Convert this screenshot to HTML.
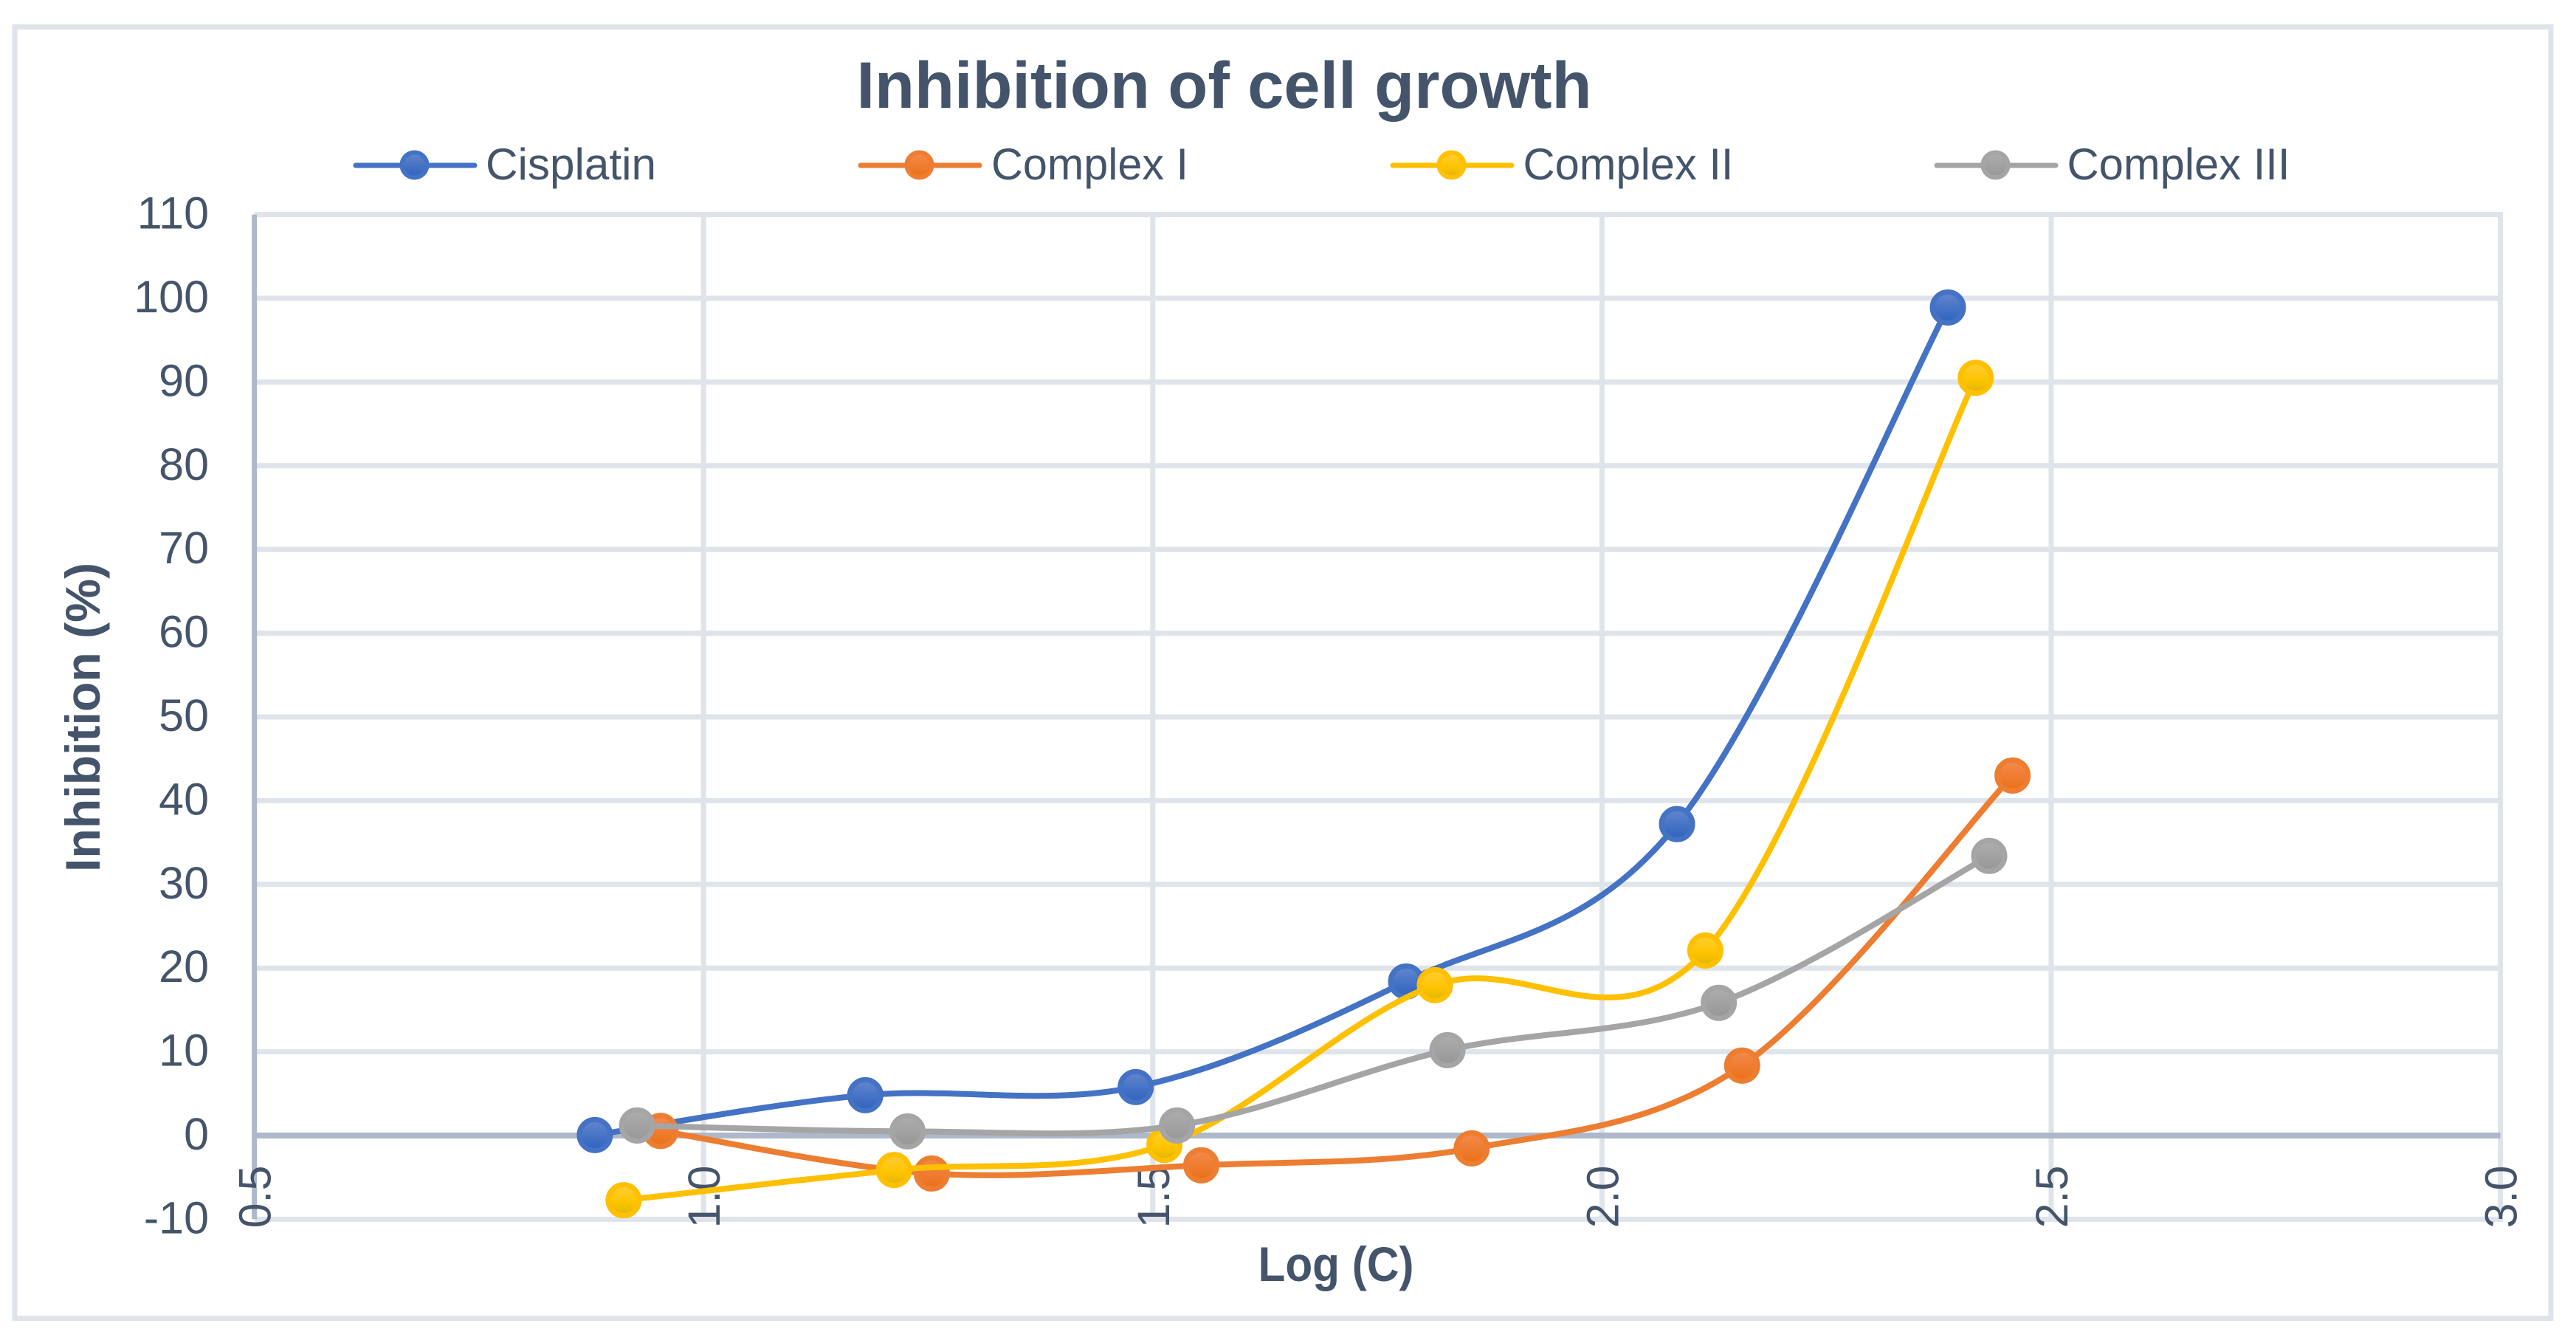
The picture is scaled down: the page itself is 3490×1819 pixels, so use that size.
<!DOCTYPE html>
<html lang="en">
<head>
<meta charset="utf-8">
<title>Inhibition of cell growth</title>
<style>
html,body{margin:0;padding:0;background:#fff;}
svg{display:block;}
text{font-family:"Liberation Sans",sans-serif;fill:#44546a;}
</style>
</head>
<body>
<svg id="chart" xmlns="http://www.w3.org/2000/svg" width="3490" height="1819" viewBox="0 0 3490 1819">
  <defs>
    <linearGradient id="grad-blue" x1="0" y1="0" x2="0" y2="1"><stop offset="0" stop-color="#6487d0"/><stop offset="1" stop-color="#2c62bc"/></linearGradient>
    <linearGradient id="grad-orange" x1="0" y1="0" x2="0" y2="1"><stop offset="0" stop-color="#f48b4f"/><stop offset="1" stop-color="#ea6f15"/></linearGradient>
    <linearGradient id="grad-yellow" x1="0" y1="0" x2="0" y2="1"><stop offset="0" stop-color="#ffcd3c"/><stop offset="0.55" stop-color="#ffc500"/><stop offset="1" stop-color="#dfb500"/></linearGradient>
    <linearGradient id="grad-gray" x1="0" y1="0" x2="0" y2="1"><stop offset="0" stop-color="#aeaeae"/><stop offset="1" stop-color="#969696"/></linearGradient>
  </defs>
  <rect x="0" y="0" width="3490" height="1819" fill="#ffffff"/>
  <rect x="20" y="36.5" width="3436" height="1749" fill="none" stroke="#dfe3ea" stroke-width="7"/>
  <text x="1160.5" y="146" font-size="89" font-weight="700" textLength="996" lengthAdjust="spacingAndGlyphs">Inhibition of cell growth</text>
  <text transform="translate(135,1181) rotate(-90)" x="0" y="0" font-size="66" font-weight="700" textLength="419" lengthAdjust="spacingAndGlyphs">Inhibition (%)</text>
  <text x="1704.5" y="1735" font-size="66" font-weight="700" textLength="211" lengthAdjust="spacingAndGlyphs">Log (C)</text>
  <g id="grid"></g>
  <g id="axes"></g>
  <g id="yticks"></g>
  <g id="xticks"></g>
  <g id="series"></g>
  <g id="legend"></g>
</svg>
<script>
var xTickValues = [0.5, 1.0, 1.5, 2.0, 2.5, 3.0];
var xTickLabels = ['0.5', '1.0', '1.5', '2.0', '2.5', '3.0'];
var yTickValues = [-10, 0, 10, 20, 30, 40, 50, 60, 70, 80, 90, 100, 110];
var yTickLabels = ['-10', '0', '10', '20', '30', '40', '50', '60', '70', '80', '90', '100', '110'];

var seriesNames = ['Cisplatin', 'Complex I', 'Complex II', 'Complex III'];

var cisplatinX = [0.879, 1.180, 1.481, 1.782, 2.0835, 2.385];
var cisplatinY = [0.06, 4.82, 5.79, 18.4, 37.2, 98.9];
var complex1X = [0.952, 1.254, 1.554, 1.855, 2.156, 2.457];
var complex1Y = [0.55, -4.53, -3.55, -1.53, 8.35, 43.0];
var complex2X = [0.911, 1.212, 1.513, 1.814, 2.115, 2.416];
var complex2Y = [-7.73, -4.12, -1.12, 17.96, 22.1, 90.5];
var complex3X = [0.926, 1.227, 1.527, 1.828, 2.130, 2.431];
var complex3Y = [1.2, 0.5, 1.2, 10.2, 15.85, 33.4];

var NS = 'http://www.w3.org/2000/svg';
function xScale(v) { return 344.6 + (v - 0.5) * 1217.2; }
function yScale(v) { return 1538 - v * 11.34; }
function make(tag, attrs, parent, txt) {
  var el = document.createElementNS(NS, tag);
  for (var k in attrs) { el.setAttribute(k, attrs[k]); }
  if (txt !== undefined) { el.textContent = txt; }
  parent.appendChild(el);
  return el;
}
var gridG = document.getElementById('grid');
var axesG = document.getElementById('axes');
var yG = document.getElementById('yticks');
var xG = document.getElementById('xticks');
var seriesG = document.getElementById('series');
var legendG = document.getElementById('legend');
var x0 = xScale(xTickValues[0]);
var x1 = xScale(xTickValues[xTickValues.length - 1]);
var y0 = yScale(yTickValues[0]);
var y1 = yScale(yTickValues[yTickValues.length - 1]);

xTickValues.forEach(function (v, i) {
  if (v === xTickValues[0]) { return; }
  var ln = make('line', { x1: xScale(v), x2: xScale(v), y1: y1 - 3.5, y2: y0 + 3.5, stroke: '#dfe3ea', 'stroke-width': 7 }, gridG);
  
  
});
yTickValues.forEach(function (v, i) {
  if (v === 0) { return; }
  var ln = make('line', { x1: x0, x2: x1 + 3.5, y1: yScale(v), y2: yScale(v), stroke: '#dfe3ea', 'stroke-width': 7 }, gridG);
  
  
});
var yAxisLine = make('line', { x1: x0, x2: x0, y1: y1, y2: y0, stroke: '#aeb8ca', 'stroke-width': 7 }, axesG);


var xAxisLine = make('line', { x1: x0, x2: x1, y1: yScale(0), y2: yScale(0), stroke: '#aeb8ca', 'stroke-width': 8 }, axesG);



yTickValues.forEach(function (v, i) {
  var t = make('text', { transform: 'translate(283,' + (yScale(v) + 19) + ')', 'text-anchor': 'end', 'font-size': 61 }, yG, yTickLabels[i]);
  
  
});
xTickValues.forEach(function (v, i) {
  var t = make('text', { transform: 'translate(' + (xScale(v) + 22) + ',1621) rotate(-90)', 'text-anchor': 'middle', 'font-size': 61 }, xG, xTickLabels[i]);
  
  
});

function smoothPath(xs, ys) {
  var pts = xs.map(function (x, i) { return [xScale(x), yScale(ys[i])]; });
  var d = 'M' + pts[0][0] + ' ' + pts[0][1];
  for (var i = 0; i < pts.length - 1; i++) {
    var p0 = pts[Math.max(i - 1, 0)], p1 = pts[i], p2 = pts[i + 1], p3 = pts[Math.min(i + 2, pts.length - 1)];
    var c1x = p1[0] + (p2[0] - p0[0]) / 6, c1y = p1[1] + (p2[1] - p0[1]) / 6;
    var c2x = p2[0] - (p3[0] - p1[0]) / 6, c2y = p2[1] - (p3[1] - p1[1]) / 6;
    d += ' C' + c1x + ' ' + c1y + ' ' + c2x + ' ' + c2y + ' ' + p2[0] + ' ' + p2[1];
  }
  return d;
}

var seriesX = [cisplatinX, complex1X, complex2X, complex3X];
var seriesY = [cisplatinY, complex1Y, complex2Y, complex3Y];
var lineColors = ['#4472c4', '#ed7d31', '#ffc000', '#a5a5a5'];
var gradIds = ['grad-blue', 'grad-orange', 'grad-yellow', 'grad-gray'];

seriesNames.forEach(function (name, s) {
  var g = make('g', {}, seriesG);
  
  
  var p = make('path', { d: smoothPath(seriesX[s], seriesY[s]), fill: 'none', stroke: lineColors[s], 'stroke-width': 8, 'stroke-linejoin': 'round' }, g);
  
  
  seriesX[s].forEach(function (x, i) {
    var c = make('circle', { cx: xScale(x), cy: yScale(seriesY[s][i]), r: 21, fill: 'url(#' + gradIds[s] + ')', stroke: lineColors[s], 'stroke-width': 7 }, g);
    
    
  });
});

var legendLineStart = [479, 1163, 1884, 2621];
var legendTextStart = [658, 1343, 2063.5, 2800.5];
var legendTextWidth = [231, 267, 285, 302];
seriesNames.forEach(function (name, s) {
  var g = make('g', {}, legendG);
  
  
  var lx = legendLineStart[s];
  var ln = make('line', { x1: lx + 3, x2: lx + 164, y1: 224, y2: 224, stroke: lineColors[s], 'stroke-width': 7, 'stroke-linecap': 'round' }, g);
  
  
  var c = make('circle', { cx: lx + 82.5, cy: 223.5, r: 17, fill: 'url(#' + gradIds[s] + ')', stroke: lineColors[s], 'stroke-width': 6 }, g);
  
  
  var t = make('text', { x: legendTextStart[s], y: 243, 'font-size': 60, textLength: legendTextWidth[s], lengthAdjust: 'spacingAndGlyphs' }, g, name);
  
  
});
</script>
</body>
</html>
